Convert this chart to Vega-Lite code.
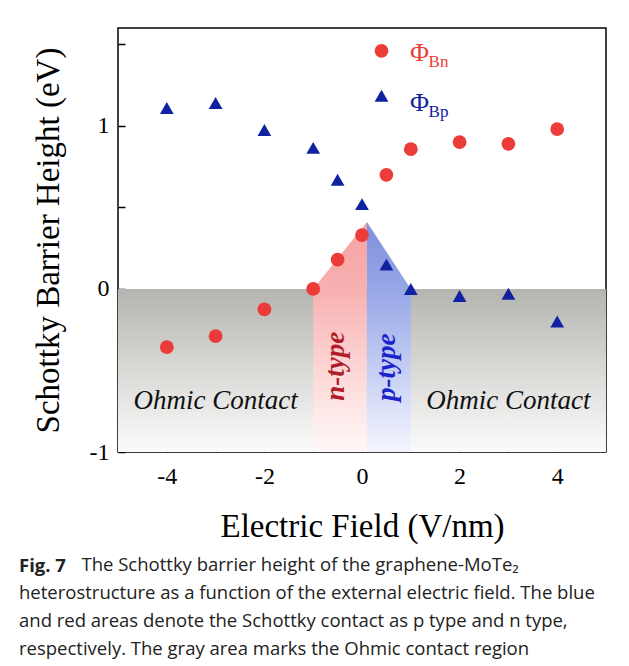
{
  "$schema": "https://vega.github.io/schema/vega-lite/v6.json",
  "width": 488,
  "height": 424,
  "autosize": {"type": "none"},
  "padding": {"left": 118, "top": 28, "right": 23, "bottom": 214},
  "background": "white",
  "config": {
    "view": {"stroke": "black", "strokeWidth": 1.5},
    "font": "Liberation Serif",
    "axis": {
      "labelFont": "Liberation Serif",
      "titleFont": "Liberation Serif",
      "labelColor": "black",
      "titleColor": "black",
      "titleFontWeight": "normal",
      "grid": false,
      "domain": false,
      "tickColor": "black",
      "tickWidth": 1.5,
      "labelFlush": false,
      "labelOverlap": false
    }
  },
  "datasets": {
    "barrier": [
      {"x": -4, "y": -0.357, "series": "ΦBn"},
      {"x": -3, "y": -0.29, "series": "ΦBn"},
      {"x": -2, "y": -0.125, "series": "ΦBn"},
      {"x": -1, "y": 0.0, "series": "ΦBn"},
      {"x": -0.5, "y": 0.18, "series": "ΦBn"},
      {"x": 0, "y": 0.33, "series": "ΦBn"},
      {"x": 0.5, "y": 0.70, "series": "ΦBn"},
      {"x": 1, "y": 0.857, "series": "ΦBn"},
      {"x": 2, "y": 0.90, "series": "ΦBn"},
      {"x": 3, "y": 0.89, "series": "ΦBn"},
      {"x": 4, "y": 0.98, "series": "ΦBn"},
      {"x": -4, "y": 1.11, "series": "ΦBp"},
      {"x": -3, "y": 1.14, "series": "ΦBp"},
      {"x": -2, "y": 0.975, "series": "ΦBp"},
      {"x": -1, "y": 0.865, "series": "ΦBp"},
      {"x": -0.5, "y": 0.67, "series": "ΦBp"},
      {"x": 0, "y": 0.52, "series": "ΦBp"},
      {"x": 0.5, "y": 0.15, "series": "ΦBp"},
      {"x": 1, "y": 0.0, "series": "ΦBp"},
      {"x": 2, "y": -0.043, "series": "ΦBp"},
      {"x": 3, "y": -0.03, "series": "ΦBp"},
      {"x": 4, "y": -0.2, "series": "ΦBp"}
    ],
    "legend": [
      {"x": 0.4, "y": 1.46, "series": "ΦBn", "sub": "Bn"},
      {"x": 0.4, "y": 1.185, "series": "ΦBp", "sub": "Bp"}
    ],
    "legendText": [
      {"x": 1.18, "y": 1.445, "series": "ΦBn", "sub": "Bn"},
      {"x": 1.18, "y": 1.138, "series": "ΦBp", "sub": "Bp"}
    ]
  },
  "title": {
    "text": "Fig. 7",
    "subtitle": [
      "\u200b\u00a0\u00a0\u00a0\u00a0\u00a0\u00a0\u00a0\u00a0\u00a0\u00a0\u00a0\u00a0\u00a0The Schottky barrier height of the graphene-MoTe₂",
      "heterostructure as a function of the external electric field. The blue",
      "and red areas denote the Schottky contact as p type and n type,",
      "respectively. The gray area marks the Ohmic contact region"
    ],
    "orient": "bottom",
    "anchor": "start",
    "frame": "bounds",
    "font": "Open Sans",
    "fontSize": 18.5,
    "fontWeight": "bold",
    "color": "#222222",
    "subtitleFont": "Open Sans",
    "subtitleFontSize": 18.5,
    "subtitleFontWeight": "normal",
    "subtitleColor": "#222222",
    "subtitleLineHeight": 28,
    "subtitlePadding": -20,
    "offset": 14,
    "dx": -13
  },
  "encoding": {
    "x": {
      "field": "x",
      "type": "quantitative",
      "scale": {"domain": [-5, 5], "nice": false, "zero": false},
      "axis": {
        "title": "Electric Field (V/nm)",
        "titleFontSize": 33,
        "titlePadding": 22,
        "labelFontSize": 24,
        "values": [-4, -3, -2, -1, 0, 1, 2, 3, 4],
        "labelExpr": "datum.value % 2 == 0 ? '' + datum.value : ''",
        "tickSize": -7,
        "labelPadding": 19
      }
    },
    "y": {
      "field": "y",
      "type": "quantitative",
      "scale": {"domain": [-1, 1.6], "nice": false, "zero": false},
      "axis": {
        "title": "Schottky Barrier Height (eV)",
        "titleFontSize": 33,
        "titlePadding": 24,
        "labelFontSize": 24,
        "values": [-1, -0.5, 0, 0.5, 1, 1.5],
        "labelExpr": "datum.value % 1 == 0 ? '' + datum.value : ''",
        "tickSize": -7,
        "labelPadding": 16
      }
    }
  },
  "layer": [
    {
      "data": {"values": [{"x": -5, "y": 0}, {"x": 5, "y": 0}]},
      "mark": {
        "type": "area",
        "color": {
          "gradient": "linear", "x1": 0, "y1": 0, "x2": 0, "y2": 1,
          "stops": [
            {"offset": 0, "color": "#b4b4b0"},
            {"offset": 0.5, "color": "#d9d9d6"},
            {"offset": 1, "color": "#fbfbfb"}
          ]
        }
      },
      "encoding": {"y2": {"datum": -1}}
    },
    {
      "data": {"values": [{"x": -1, "y": 0}, {"x": 0.1, "y": 0.41}]},
      "mark": {
        "type": "area",
        "color": {
          "gradient": "linear", "x1": 0, "y1": 0, "x2": 0, "y2": 1,
          "stops": [
            {"offset": 0, "color": "#f5a2a2"},
            {"offset": 0.29, "color": "#f8b0b0"},
            {"offset": 0.62, "color": "#fcd4d4"},
            {"offset": 1, "color": "#fff8f8"}
          ]
        }
      },
      "encoding": {"y2": {"datum": -1}}
    },
    {
      "data": {"values": [{"x": 0.1, "y": 0.41}, {"x": 1.0, "y": 0}]},
      "mark": {
        "type": "area",
        "color": {
          "gradient": "linear", "x1": 0, "y1": 0, "x2": 0, "y2": 1,
          "stops": [
            {"offset": 0, "color": "#8090dc"},
            {"offset": 0.29, "color": "#96a6e6"},
            {"offset": 0.62, "color": "#c2ccf3"},
            {"offset": 1, "color": "#f4f6fe"}
          ]
        }
      },
      "encoding": {"y2": {"datum": -1}}
    },
    {
      "data": {"values": [{}]},
      "mark": {"type": "rule", "color": "black", "strokeWidth": 2, "strokeDash": [8, 5]},
      "encoding": {"x": {"datum": -5}, "x2": {"datum": 5}, "y": {"datum": 0}}
    },
    {
      "data": {"values": [{}]},
      "mark": {"type": "rule", "color": "black", "strokeWidth": 2, "strokeDash": [8, 5]},
      "encoding": {"x": {"datum": 0}, "y": {"datum": -1}, "y2": {"datum": 1.6}}
    },
    {
      "data": {"name": "barrier"},
      "mark": {"type": "point", "filled": true, "opacity": 1, "size": 190},
      "encoding": {
        "color": {"field": "series", "type": "nominal", "scale": {"domain": ["ΦBn", "ΦBp"], "range": ["#ec3c3a", "#1022a0"]}, "legend": null},
        "shape": {"field": "series", "type": "nominal", "scale": {"domain": ["ΦBn", "ΦBp"], "range": ["circle", "triangle-up"]}, "legend": null}
      }
    },
    {
      "data": {"name": "legend"},
      "mark": {"type": "point", "filled": true, "opacity": 1, "size": 190},
      "encoding": {
        "color": {"field": "series", "type": "nominal", "legend": null},
        "shape": {"field": "series", "type": "nominal", "legend": null}
      }
    },
    {
      "data": {"name": "legendText"},
      "mark": {"type": "text", "text": "Φ", "font": "Liberation Serif", "fontSize": 26, "align": "center", "baseline": "middle"},
      "encoding": {"color": {"field": "series", "type": "nominal", "legend": null}}
    },
    {
      "data": {"name": "legendText"},
      "mark": {"type": "text", "font": "Liberation Serif", "fontSize": 17, "align": "left", "baseline": "middle", "dx": 9, "dy": 9},
      "encoding": {"text": {"field": "sub"}, "color": {"field": "series", "type": "nominal", "legend": null}}
    },
    {
      "data": {"values": [{"x": -3.0, "y": -0.738, "label": "Ohmic Contact"}, {"x": 3.0, "y": -0.738, "label": "Ohmic Contact"}]},
      "mark": {"type": "text", "font": "Liberation Serif", "fontStyle": "italic", "fontSize": 27, "align": "center", "baseline": "alphabetic", "color": "#111111"},
      "encoding": {"text": {"field": "label"}}
    },
    {
      "data": {"values": [{"x": -0.53, "y": -0.474, "label": "n-type"}]},
      "mark": {"type": "text", "font": "Liberation Serif", "fontStyle": "italic", "fontWeight": "bold", "fontSize": 27, "align": "center", "baseline": "middle", "angle": 270, "color": "#b01e2a"},
      "encoding": {"text": {"field": "label"}}
    },
    {
      "data": {"values": [{"x": 0.51, "y": -0.48, "label": "p-type"}]},
      "mark": {"type": "text", "font": "Liberation Serif", "fontStyle": "italic", "fontWeight": "bold", "fontSize": 27, "align": "center", "baseline": "middle", "angle": 270, "color": "#1c22cc"},
      "encoding": {"text": {"field": "label"}}
    }
  ]
}
